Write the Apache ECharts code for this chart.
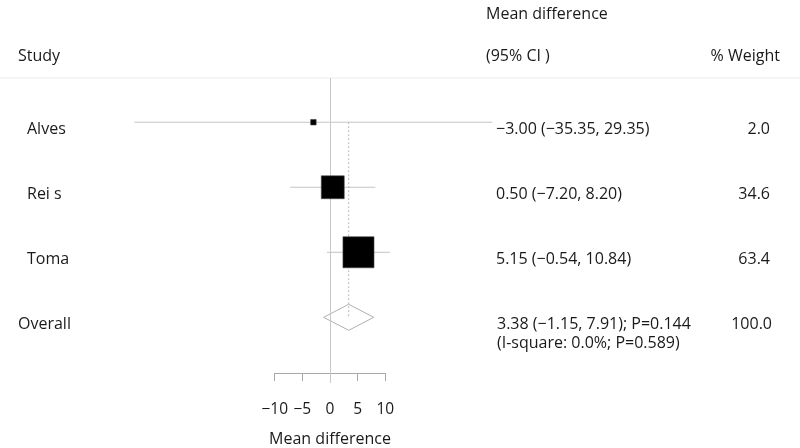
<!DOCTYPE html>
<html><head><meta charset="utf-8">
<script src="https://cdn.jsdelivr.net/npm/echarts@6/dist/echarts.min.js"></script>
<style>html,body{margin:0;padding:0;background:#fff}#c{width:800px;height:448px}</style>
</head><body><div id="c"></div>
<script>
const studies = ['Alves', 'Rei s', 'Toma'];
const meanDiff = [-3.00, 0.50, 5.15];
const ciLow = [-35.35, -7.20, -0.54];
const ciHigh = [29.35, 8.20, 10.84];
const weights = [2.0, 34.6, 63.4];
const ciText = ['\u22123.00 (\u221235.35, 29.35)', '0.50 (\u22127.20, 8.20)', '5.15 (\u22120.54, 10.84)'];
const weightText = ['2.0', '34.6', '63.4'];
const overall = { label: 'Overall', est: 3.38, lo: -1.15, hi: 7.91, text1: '3.38 (\u22121.15, 7.91); P=0.144', text2: '(I-square: 0.0%; P=0.589)', weight: '100.0' };
const axisTicks = [-10, -5, 0, 5, 10];

const FONT = 'Open Sans';
const TXT = '#1a1a1a';
const LINE = '#c4c4c4';

const chart = echarts.init(document.getElementById('c'), null, { renderer: 'canvas' });
const overallRow = studies.length;

const option = {
  animation: false,
  backgroundColor: '#fff',
  grid: [
    { left: 53.5, width: 553, top: 78, height: 305 },
    { left: 274.7, width: 110.6, top: 300, height: 83 }
  ],
  xAxis: [
    { gridIndex: 0, type: 'value', min: -50, max: 50, show: false },
    { gridIndex: 1, type: 'value', min: axisTicks[0], max: axisTicks[axisTicks.length - 1], interval: 5, position: 'bottom',
      axisLine: { show: true, lineStyle: { color: '#a8a8a8', width: 1 } },
      axisTick: { show: true, length: 8, lineStyle: { color: '#a8a8a8' } },
      splitLine: { show: false },
      axisLabel: { margin: 29, fontFamily: FONT, fontSize: 15.5, color: TXT, formatter: v => String(v).replace('-', '\u2212') },
      name: 'Mean difference', nameLocation: 'middle', nameGap: 58,
      nameTextStyle: { fontFamily: FONT, fontSize: 16, color: TXT } }
  ],
  yAxis: [
    { gridIndex: 0, type: 'value', min: -0.68, max: 4.01, inverse: true, show: false },
    { gridIndex: 1, type: 'value', min: 0, max: 1, show: false }
  ],
  series: [
    { type: 'custom', xAxisIndex: 0, yAxisIndex: 0, silent: true, z: 1,
      data: studies.map((s, i) => [ciLow[i], ciHigh[i], i]),
      renderItem: (params, api) => {
        const a = api.coord([api.value(0), api.value(2)]);
        const b = api.coord([api.value(1), api.value(2)]);
        return { type: 'line', shape: { x1: a[0], y1: a[1], x2: b[0], y2: b[1] }, style: { stroke: LINE, lineWidth: 1 } };
      },
      markLine: { silent: true, symbol: 'none', label: { show: false },
        lineStyle: { color: '#c8c8c8', type: 'solid', width: 1 },
        data: [{ xAxis: 0 }] }
    },
    { type: 'line', xAxisIndex: 0, yAxisIndex: 0, silent: true, symbol: 'none', z: 2,
      lineStyle: { color: '#b8b8b8', type: [2, 2], width: 1 },
      data: [[overall.est, 0], [overall.est, overallRow]] },
    { type: 'scatter', xAxisIndex: 0, yAxisIndex: 0, silent: true, symbol: 'rect', z: 5,
      itemStyle: { color: '#000', opacity: 1, borderColor: '#444', borderWidth: 0.6 },
      data: studies.map((s, i) => ({ value: [meanDiff[i], i], symbolSize: 3.9 * Math.sqrt(weights[i]) })) },
    { type: 'custom', xAxisIndex: 0, yAxisIndex: 0, silent: true, z: 3,
      data: [[overall.lo, overall.est, overall.hi, overallRow]],
      renderItem: (params, api) => {
        const r = api.value(3), h = 0.2;
        const p = [
          api.coord([api.value(0), r]), api.coord([api.value(1), r - h]),
          api.coord([api.value(2), r]), api.coord([api.value(1), r + h])
        ];
        return { type: 'polygon', shape: { points: p }, style: { fill: 'rgba(255,255,255,0)', stroke: '#b0b0b0', lineWidth: 1 } };
      }
    }
  ]
};
chart.setOption(option);

const rowY = i => chart.convertToPixel({ xAxisIndex: 0, yAxisIndex: 0 }, [0, i])[1];
const txt = (text, x, y, align, opts) => Object.assign({ type: 'text', x: x, y: y, silent: true,
  style: { text: text, fill: TXT, font: '16px "' + FONT + '"', align: align || 'left', verticalAlign: 'middle' } }, opts || {});

const g = [
  { type: 'line', silent: true, shape: { x1: 0, y1: 78, x2: 800, y2: 78 }, style: { stroke: '#ececec', lineWidth: 1 } },
  txt('Study', 18, 56),
  txt('Mean difference', 486, 14),
  txt('(95% CI )', 486, 56),
  txt('% Weight', 780, 56, 'right')
];
studies.forEach((s, i) => {
  const y = rowY(i) + 7;
  g.push(txt(s, 27, y));
  g.push(txt(ciText[i], 496, y));
  g.push(txt(weightText[i], 770, y, 'right'));
});
const oy = rowY(overallRow) + 7;
g.push(txt(overall.label, 18, oy));
g.push(txt(overall.text1, 497, oy));
g.push(txt(overall.text2, 497, oy + 19));
g.push(txt(overall.weight, 772, oy, 'right'));
chart.setOption({ graphic: g });
</script></body></html>
